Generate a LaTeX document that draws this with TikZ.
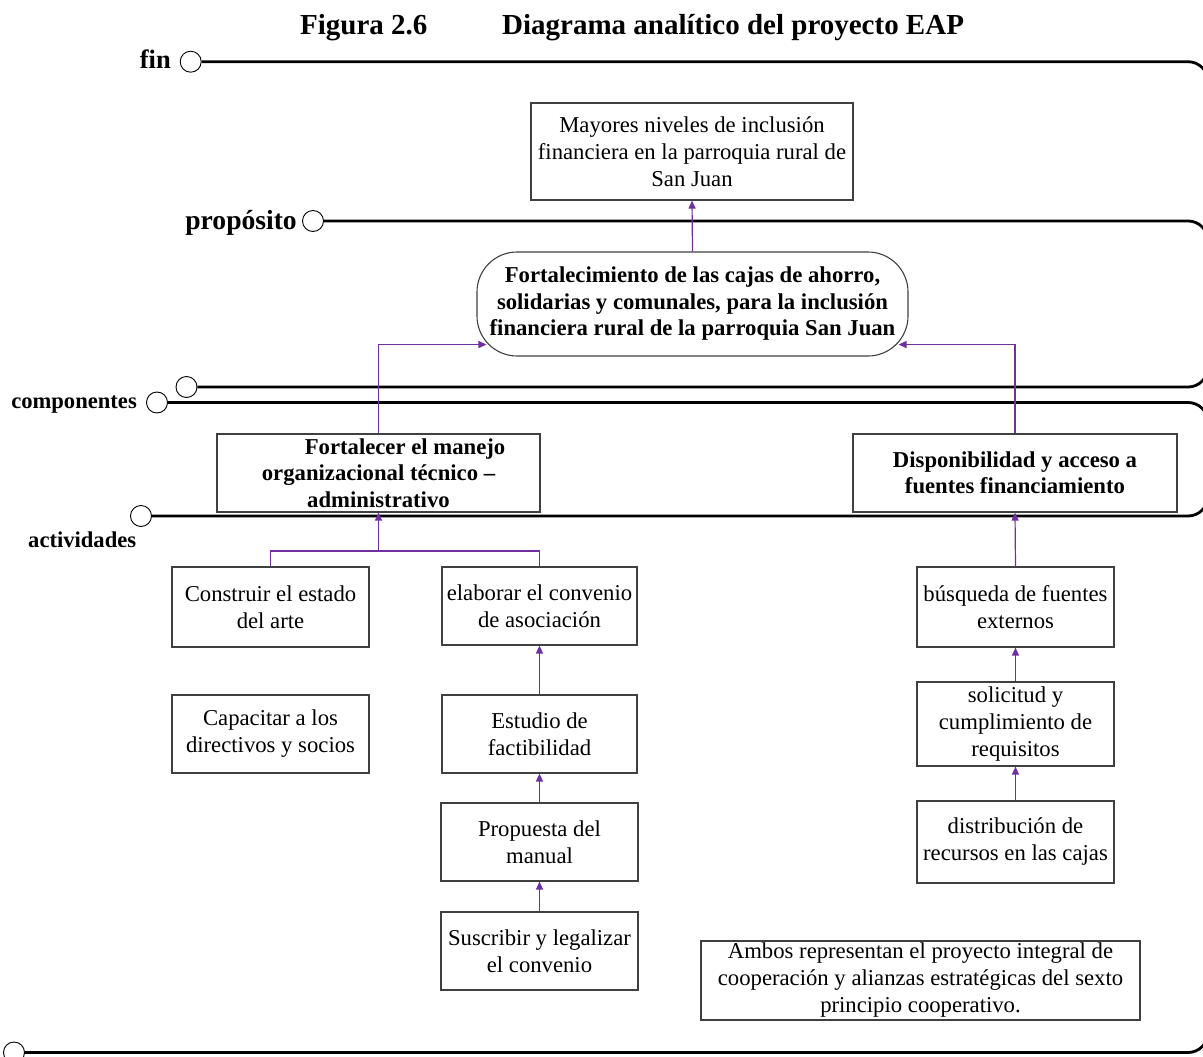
\documentclass[tikz,border=0pt]{standalone}
\usepackage{fontspec}
\setmainfont{Liberation Serif}
\usetikzlibrary{arrows.meta,calc}
\definecolor{flecha}{HTML}{7030A0}
\definecolor{borde}{HTML}{404040}

\begin{document}
\begin{tikzpicture}[x=1pt,y=-1pt,
  every node/.style={font=\fontsize{22.7pt}{27pt}\selectfont, inner sep=0pt},
  caja/.style={draw=borde, line width=1.1pt, align=center},
  negrita/.style={font=\bfseries\fontsize{22.7pt}{26.5pt}\selectfont},
  nivel/.style={circle, draw, line width=0.9pt, fill=white, minimum size=21pt},
  banda/.style={line width=2.8pt, rounded corners=20pt},
  etiqueta/.style={font=\bfseries\fontsize{22.6pt}{26pt}\selectfont},
  conector/.style={draw=flecha, line width=1.2pt},
  flechita/.style={conector, -{Triangle[length=8pt,width=7pt]}}]

\useasboundingbox (0,0) rectangle (1203,1057);

% title
\node[font=\bfseries\fontsize{29pt}{34pt}\selectfont, anchor=base west] (fig) at (300,35) {Figura 2.6};
\node[font=\bfseries\fontsize{29pt}{34pt}\selectfont, anchor=base west] (tit) at (502,35) {Diagrama analítico del proyecto EAP};

% level labels
\node[font=\bfseries\fontsize{26.5pt}{30pt}\selectfont, anchor=base east] (lfin) at (171,69) {fin};
\node[font=\bfseries\fontsize{27.6pt}{32pt}\selectfont, anchor=base east] (lprop) at (297,229) {propósito};
\node[etiqueta, anchor=base east] (lcomp) at (137,408) {componentes};
\node[etiqueta, anchor=base west] (lact) at (28,547) {actividades};

% level circles
\node[nivel] (cfin) at (190.7,61.7) {};
\node[nivel] (cprop) at (313,221) {};
\node[nivel] (cpropb) at (186.5,387) {};
\node[nivel] (ccomp) at (157,402.5) {};
\node[nivel] (cact) at (141,516) {};
\node[nivel] (cfinb) at (14,1052.5) {};

% level bands
\draw[banda] (cfin.east) -- (1208,61.7) -- (1208,160);
\draw[banda] (cprop.east) -- (1208,221) -- (1208,300);
\draw[banda] (cpropb.east) -- (1208,387) -- (1208,300);
\draw[banda] (ccomp.east) -- (1208,402.5) -- (1208,460);
\draw[banda] (cact.east) -- (1208,516) -- (1208,460);
\draw[banda] (cfinb.east) -- (1208,1052.5) -- (1208,980);

% boxes
\node[caja, minimum width=322, minimum height=97] (mayores) at (692,151.5)
  {Mayores niveles de inclusión\\financiera en la parroquia rural de\\San Juan};
\node[caja, negrita, rounded corners=40pt, minimum width=431, minimum height=104] (raiz) at (692.5,304)
  {Fortalecimiento de las cajas de ahorro,\\solidarias y comunales, para la inclusión\\financiera rural de la parroquia San Juan};
\node[caja, negrita, minimum width=323, minimum height=78] (comp1) at (378.5,473)
  {\hspace*{53pt}Fortalecer el manejo\\organizacional técnico –\\administrativo};
\node[caja, negrita, minimum width=324, minimum height=78] (comp2) at (1015,473)
  {Disponibilidad y acceso a\\fuentes financiamiento};

\node[caja, minimum width=197, minimum height=80] (a1) at (270.5,607) {Construir el estado\\del arte};
\node[caja, minimum width=195, minimum height=78] (a2) at (539.5,606) {elaborar el convenio\\de asociación};
\node[caja, minimum width=197, minimum height=78] (a3) at (270.5,734) {Capacitar a los\\directivos y socios};
\node[caja, minimum width=195, minimum height=78] (a4) at (539.5,734) {Estudio de\\factibilidad};
\node[caja, minimum width=197, minimum height=78] (a5) at (539.5,842) {Propuesta del\\manual};
\node[caja, minimum width=197, minimum height=78] (a6) at (539.5,951) {Suscribir y legalizar\\el convenio};

\node[caja, minimum width=197, minimum height=80] (b1) at (1015.5,607) {búsqueda de fuentes\\externos};
\node[caja, minimum width=197, minimum height=84] (b2) at (1015.5,724) {solicitud y\\cumplimiento de\\requisitos};
\node[caja, minimum width=197, minimum height=82] (b3) at (1015.5,842) {distribución de\\recursos en las cajas};

\node[caja, minimum width=439, minimum height=79] (nota) at (920.5,980.5)
  {Ambos representan el proyecto integral de\\cooperación y alianzas estratégicas del sexto\\principio cooperativo.};

% connectors
\coordinate (fork) at (378.5,551);
\draw[flechita] (raiz.north) -- (mayores.south);
\draw[flechita] (comp1.north) |- ([xshift=10pt,yshift=12pt]raiz.south west);
\draw[flechita] (comp2.north) |- ([xshift=-10pt,yshift=12pt]raiz.south east);
\draw[conector] (a1.north) |- (fork) -| (a2.north);
\draw[flechita] (fork) -- (comp1.south);
\draw[flechita] (a4.north) -- (a2.south);
\draw[flechita] (a5.north) -- (a4.south);
\draw[flechita] (a6.north) -- (a5.south);
\draw[flechita] (b1.north) -- (comp2.south);
\draw[flechita] (b2.north) -- (b1.south);
\draw[flechita] (b3.north) -- (b2.south);
\end{tikzpicture}
\end{document}
